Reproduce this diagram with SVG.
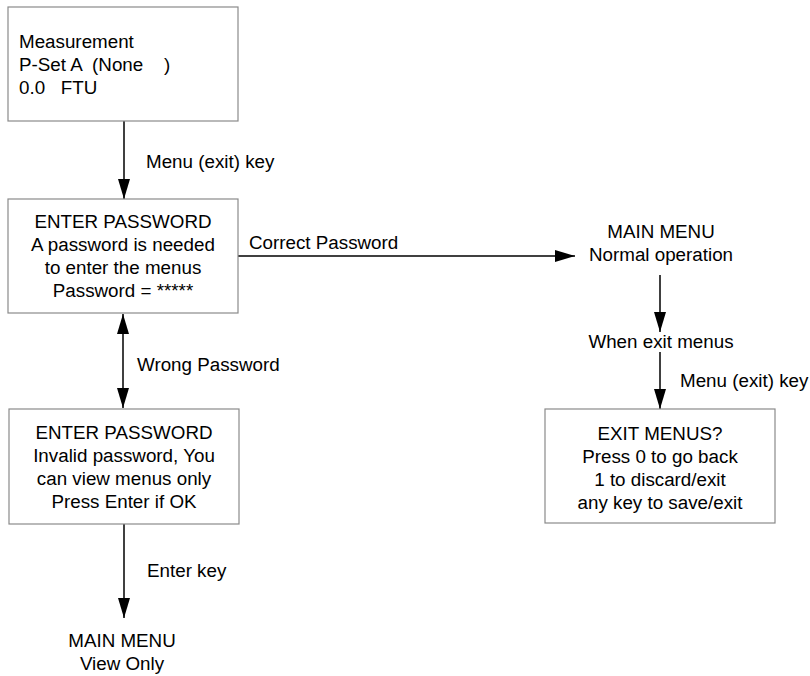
<svg xmlns="http://www.w3.org/2000/svg" width="810" height="676" viewBox="0 0 810 676">
<style>
  text { font-family: "Liberation Sans", Arial, sans-serif; font-size: 18.8px; fill: #000; white-space: pre; }
  .c { text-anchor: middle; }
  .box { fill: #fff; stroke: #8a8a8a; stroke-width: 1.2; }
  .conn { stroke: #000; stroke-width: 1.5; fill: none; }
</style>
<defs>
  <marker id="ah" viewBox="0 0 20 12" refX="20" refY="6" markerWidth="20" markerHeight="12" markerUnits="userSpaceOnUse" orient="auto-start-reverse">
    <path d="M0,0 L20,6 L0,12 Z" fill="#000"/>
  </marker>
</defs>
<rect width="810" height="676" fill="#fff"/>
<g id="connectors">
  <line class="conn" x1="124" y1="121" x2="124" y2="199" marker-end="url(#ah)"/>
  <text x="146" y="168">Menu (exit) key</text>
  <line class="conn" x1="238" y1="256" x2="575" y2="256" marker-end="url(#ah)"/>
  <text x="249" y="249">Correct Password</text>
  <line class="conn" x1="123" y1="314" x2="123" y2="408" marker-start="url(#ah)" marker-end="url(#ah)"/>
  <text x="137" y="371">Wrong Password</text>
  <line class="conn" x1="124" y1="524" x2="124" y2="618" marker-end="url(#ah)"/>
  <text x="147" y="577">Enter key</text>
  <line class="conn" x1="660" y1="275" x2="660" y2="332" marker-end="url(#ah)"/>
  <line class="conn" x1="660" y1="352" x2="660" y2="409" marker-end="url(#ah)"/>
  <text x="680" y="387">Menu (exit) key</text>
</g>
<g id="measurement">
  <rect class="box" x="8" y="7" width="230" height="114"/>
  <text x="19" y="48">Measurement</text>
  <text x="19" y="71">P-Set A  (None    )</text>
  <text x="19" y="94">0.0   FTU</text>
</g>
<g id="enter-password">
  <rect class="box" x="8" y="199" width="230" height="114"/>
  <text class="c" x="123" y="228">ENTER PASSWORD</text>
  <text class="c" x="123" y="251">A password is needed</text>
  <text class="c" x="123" y="274">to enter the menus</text>
  <text class="c" x="123" y="297">Password = *****</text>
</g>
<g id="invalid-password">
  <rect class="box" x="9" y="409" width="230" height="115"/>
  <text class="c" x="124" y="439">ENTER PASSWORD</text>
  <text class="c" x="124" y="462">Invalid password, You</text>
  <text class="c" x="124" y="485">can view menus only</text>
  <text class="c" x="124" y="508">Press Enter if OK</text>
</g>
<g id="main-menu-view">
  <text class="c" x="122" y="647">MAIN MENU</text>
  <text class="c" x="122" y="670">View Only</text>
</g>
<g id="main-menu-normal">
  <text class="c" x="661" y="238">MAIN MENU</text>
  <text class="c" x="661" y="261">Normal operation</text>
</g>
<g id="when-exit">
  <text class="c" x="661" y="348">When exit menus</text>
</g>
<g id="exit-menus">
  <rect class="box" x="545" y="409" width="230" height="114"/>
  <text class="c" x="660" y="440">EXIT MENUS?</text>
  <text class="c" x="660" y="463">Press 0 to go back</text>
  <text class="c" x="660" y="486">1 to discard/exit</text>
  <text class="c" x="660" y="509">any key to save/exit</text>
</g>
</svg>
